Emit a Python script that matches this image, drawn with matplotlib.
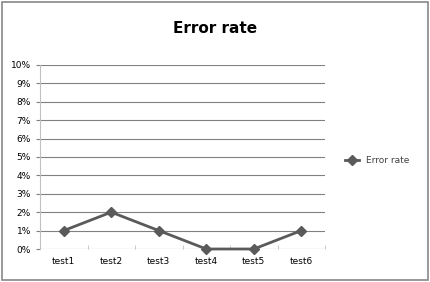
import matplotlib.pyplot as plt
from matplotlib.patches import Rectangle

categories = ['test1', 'test2', 'test3', 'test4', 'test5', 'test6']
error_rate = [1, 2, 1, 0, 0, 1]  # percent
y_ticks = list(range(0, 11))

fig = plt.figure(figsize=(4.3, 2.82), dpi=100)
fig.patches.append(Rectangle((0.005, 0.007), 0.99, 0.986, transform=fig.transFigure,
                             fill=False, edgecolor='#888888', lw=1.2))

ax = fig.add_axes([0.093, 0.117, 0.663, 0.653])
x = range(len(categories))
ax.plot(x, error_rate, color='#5a5a5a', lw=2, marker='D', ms=5,
        label='Error rate', clip_on=False, zorder=3)

ax.set_xlim(-0.5, len(categories) - 0.5)
ax.set_ylim(0, 10)
ax.set_yticks(y_ticks)
ax.set_yticklabels([f'{v}%' for v in y_ticks], fontsize=6.5)
ax.set_xticks(list(x))
ax.set_xticklabels(categories, fontsize=6.5)
ax.tick_params(axis='x', length=0, pad=6)
ax.tick_params(axis='y', length=3, color='#808080')
ax.set_xticks([i - 0.5 for i in range(len(categories) + 1)], minor=True)
ax.tick_params(axis='x', which='minor', length=3, color='#c0c0c0', direction='in')
ax.grid(axis='y', color='#808080', lw=0.8)
ax.set_axisbelow(True)
for s in ['top', 'right', 'bottom']:
    ax.spines[s].set_visible(False)
ax.spines['left'].set_color('#c0c0c0')

fig.text(0.5, 0.9, 'Error rate', ha='center', va='center', fontsize=11, fontweight='bold')
ax.legend(loc='center left', bbox_to_anchor=(1.04, 0.48), frameon=False,
          fontsize=6.5, handlelength=1.6, labelcolor='#404040')

fig.savefig('out.png', dpi=100)
